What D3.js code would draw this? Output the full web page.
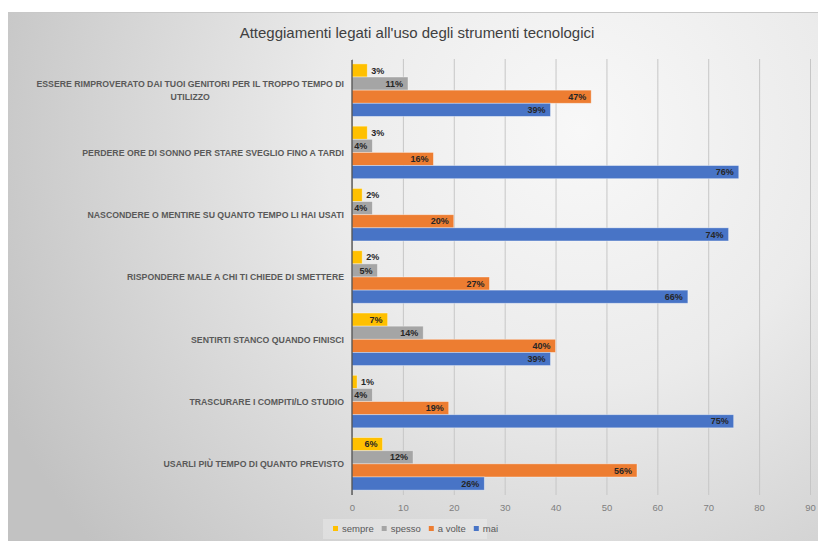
<!DOCTYPE html>
<html><head><meta charset="utf-8">
<script src="https://cdn.jsdelivr.net/npm/d3@7"></script>
<style>
html,body{margin:0;padding:0;background:#fff;}
svg{display:block;font-family:"Liberation Sans",Arial,sans-serif;}
</style></head>
<body>
<svg id="chart" width="818" height="541"></svg>
<script>
const title = "Atteggiamenti legati all'uso degli strumenti tecnologici";
const categories = [
  ["ESSERE RIMPROVERATO DAI TUOI GENITORI PER IL TROPPO TEMPO DI", "UTILIZZO"],
  ["PERDERE ORE DI SONNO PER STARE SVEGLIO FINO A TARDI"],
  ["NASCONDERE O MENTIRE SU QUANTO TEMPO LI HAI USATI"],
  ["RISPONDERE MALE A CHI TI CHIEDE DI SMETTERE"],
  ["SENTIRTI STANCO QUANDO FINISCI"],
  ["TRASCURARE I COMPITI/LO STUDIO"],
  ["USARLI PIÙ TEMPO DI QUANTO PREVISTO"]
];
const seriesNames = ["sempre", "spesso", "a volte", "mai"];
const sempre = [3, 3, 2, 2, 7, 1, 6];
const spesso = [11, 4, 4, 5, 14, 4, 12];
const aVolte = [47, 16, 20, 27, 40, 19, 56];
const mai = [39, 76, 74, 66, 39, 75, 26];
const seriesValues = [sempre, spesso, aVolte, mai];
const colors = ["#FFC000", "#A5A5A5", "#ED7D31", "#4874C6"];
const xTicks = [0, 10, 20, 30, 40, 50, 60, 70, 80, 90];

const svg = d3.select("#chart");
const defs = svg.append("defs");
const grad = defs.append("radialGradient").attr("id","bg")
  .attr("gradientUnits","userSpaceOnUse")
  .attr("cx",580).attr("cy",130).attr("r",640);
grad.append("stop").attr("offset","0%").attr("stop-color","#f8f8f8");
grad.append("stop").attr("offset","40%").attr("stop-color","#ebebeb");
grad.append("stop").attr("offset","100%").attr("stop-color","#c2c2c2");

svg.append("rect").attr("x",8).attr("y",12).attr("width",818-8).attr("height",541-12)
  .attr("fill","url(#bg)");
svg.append("line").attr("x1",8).attr("x2",818).attr("y1",12.5).attr("y2",12.5)
  .attr("stroke","#c8c8c8").attr("stroke-width",1);

svg.append("text").attr("x",417).attr("y",38).attr("text-anchor","middle")
  .attr("font-size",15).attr("fill","#404040").text(title);

const x = d3.scaleLinear().domain([0, 90]).range([352, 810]);
const y = d3.scaleBand().domain(d3.range(categories.length)).range([59, 495])
  .paddingInner(0.157).paddingOuter(0.0785);
const ySub = d3.scaleBand().domain(d3.range(seriesNames.length)).range([0, y.bandwidth()]);

// gridlines
const gx = svg.append("g").attr("transform","translate(0,495)")
  .call(d3.axisBottom(x).tickValues(xTicks).tickSize(-436).tickSizeOuter(0).tickPadding(9));
gx.select(".domain").remove();
gx.selectAll(".tick line").attr("stroke","#c6c6c6").attr("y2",0).attr("y1",-436);
gx.selectAll(".tick text").attr("fill","#808080").attr("font-size",9.5)
  .attr("font-family","Liberation Sans, Arial, sans-serif");

// bars
const groups = svg.append("g").selectAll("g").data(categories).join("g")
  .attr("transform",(d,i)=>`translate(0,${y(i)})`);
seriesNames.forEach((s, si) => {
  groups.append("rect")
    .attr("x", x(0))
    .attr("y", ySub(si))
    .attr("width", (d,i) => x(seriesValues[si][i]) - x(0))
    .attr("height", ySub.bandwidth())
    .attr("fill", colors[si])
    .attr("stroke", "rgba(255,255,255,0.45)").attr("stroke-width", 0.8);
});
// labels
seriesNames.forEach((s, si) => {
  groups.append("text")
    .attr("y", ySub(si) + ySub.bandwidth()/2)
    .attr("dy","0.35em")
    .attr("font-size", 9).attr("font-weight","bold").attr("fill","#262626")
    .text((d,i) => seriesValues[si][i] + "%")
    .each(function(d,i){
      const v = seriesValues[si][i];
      const w = this.getComputedTextLength();
      const bw = x(v) - x(0);
      const t = d3.select(this);
      if (bw < w + 6) t.attr("x", x(v) + 4).attr("text-anchor","start");
      else t.attr("x", x(v) - 5).attr("text-anchor","end");
    });
});

// axis line at 0
svg.append("line").attr("x1",x(0)).attr("x2",x(0)).attr("y1",60).attr("y2",495)
  .attr("stroke","#404040").attr("stroke-width",1.2);

// category labels
const sx = 0.92;
const catG = svg.append("g");
categories.forEach((lines, i) => {
  const cy = y(i) + y.bandwidth()/2;
  const n = lines.length;
  const g = catG.append("g").attr("transform",`translate(344,${cy}) scale(${sx},1)`);
  const t = g.append("text").attr("font-size",9.5).attr("font-weight","bold").attr("fill","#595959")
    .attr("text-anchor","middle");
  lines.forEach((l, li) => {
    t.append("tspan").attr("x",0).attr("y",(li - (n-1)/2)*13).attr("dy","0.35em").text(l);
  });
  const bb = t.node().getBBox();
  t.attr("transform",`translate(${-bb.x - bb.width},0)`);
});

// legend
const legend = svg.append("g");
legend.append("rect").attr("x",323).attr("y",519).attr("width",164).attr("height",20)
  .attr("fill","rgba(255,255,255,0.25)");
let lx = 333;
seriesNames.forEach((s, si) => {
  legend.append("rect").attr("x",lx).attr("y",526).attr("width",5).attr("height",5).attr("fill",colors[si]);
  const t = legend.append("text").attr("x",lx+9).attr("y",529).attr("dy","0.35em")
    .attr("font-size",9.5).attr("fill","#595959").text(s);
  lx += 9 + t.node().getComputedTextLength() + 8;
});
</script>
</body></html>
